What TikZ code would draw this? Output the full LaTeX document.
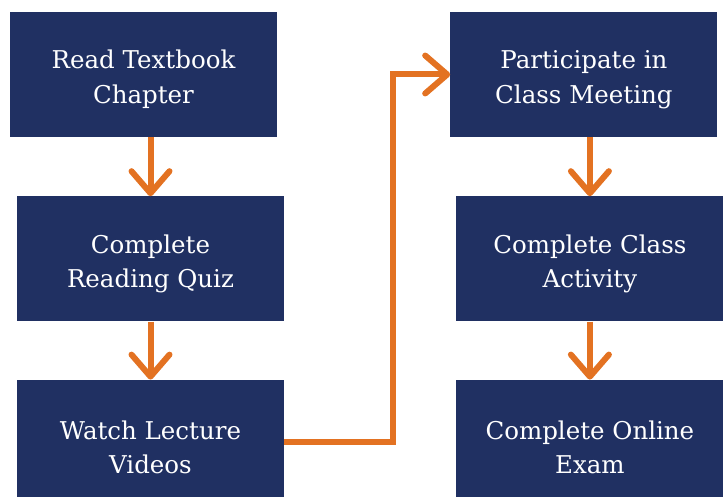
\documentclass[tikz,border=0pt]{standalone}
\usepackage{fontspec}
\setmainfont{DejaVu Serif}
\usetikzlibrary{positioning, arrows.meta}
\definecolor{navy}{HTML}{203062}
\definecolor{flow}{HTML}{E37222}
\tikzset{stepbox/.style={fill=navy, text=white, minimum width=267pt, minimum height=125pt, inner sep=0pt, align=center, text height=63pt, font=\fontsize{24.5}{34.5}\selectfont},
link/.style={draw=flow, line width=6pt, -{Straight Barb[length=22pt,width=38pt,round]}},
node distance=59pt}

\begin{document}
\begin{tikzpicture}[x=1pt,y=-1pt]
\useasboundingbox (0,0) rectangle (728,497);
\node[stepbox] (read) at (143.5,74.5) {Read Textbook\\Chapter};
\node[stepbox, below=of read, xshift=7pt] (quiz) {Complete\\Reading Quiz};
\node[stepbox, below=58pt of quiz] (videos) {Watch Lecture\\Videos};
\node[stepbox, right=173pt of read] (meet) {Participate in\\Class Meeting};
\node[stepbox, below=of meet, xshift=6pt] (activity) {Complete Class\\Activity};
\node[stepbox, below=58pt of activity] (exam) {Complete Online\\Exam};

\draw[link] (read.south -| quiz.north) -- (quiz.north);
\draw[link] (quiz) -- (videos);
\draw[link] (videos.east) -- ++(109,0) |- (meet.west);
\draw[link] (meet.south -| activity.north) -- (activity.north);
\draw[link] (activity) -- (exam);
\end{tikzpicture}
\end{document}
